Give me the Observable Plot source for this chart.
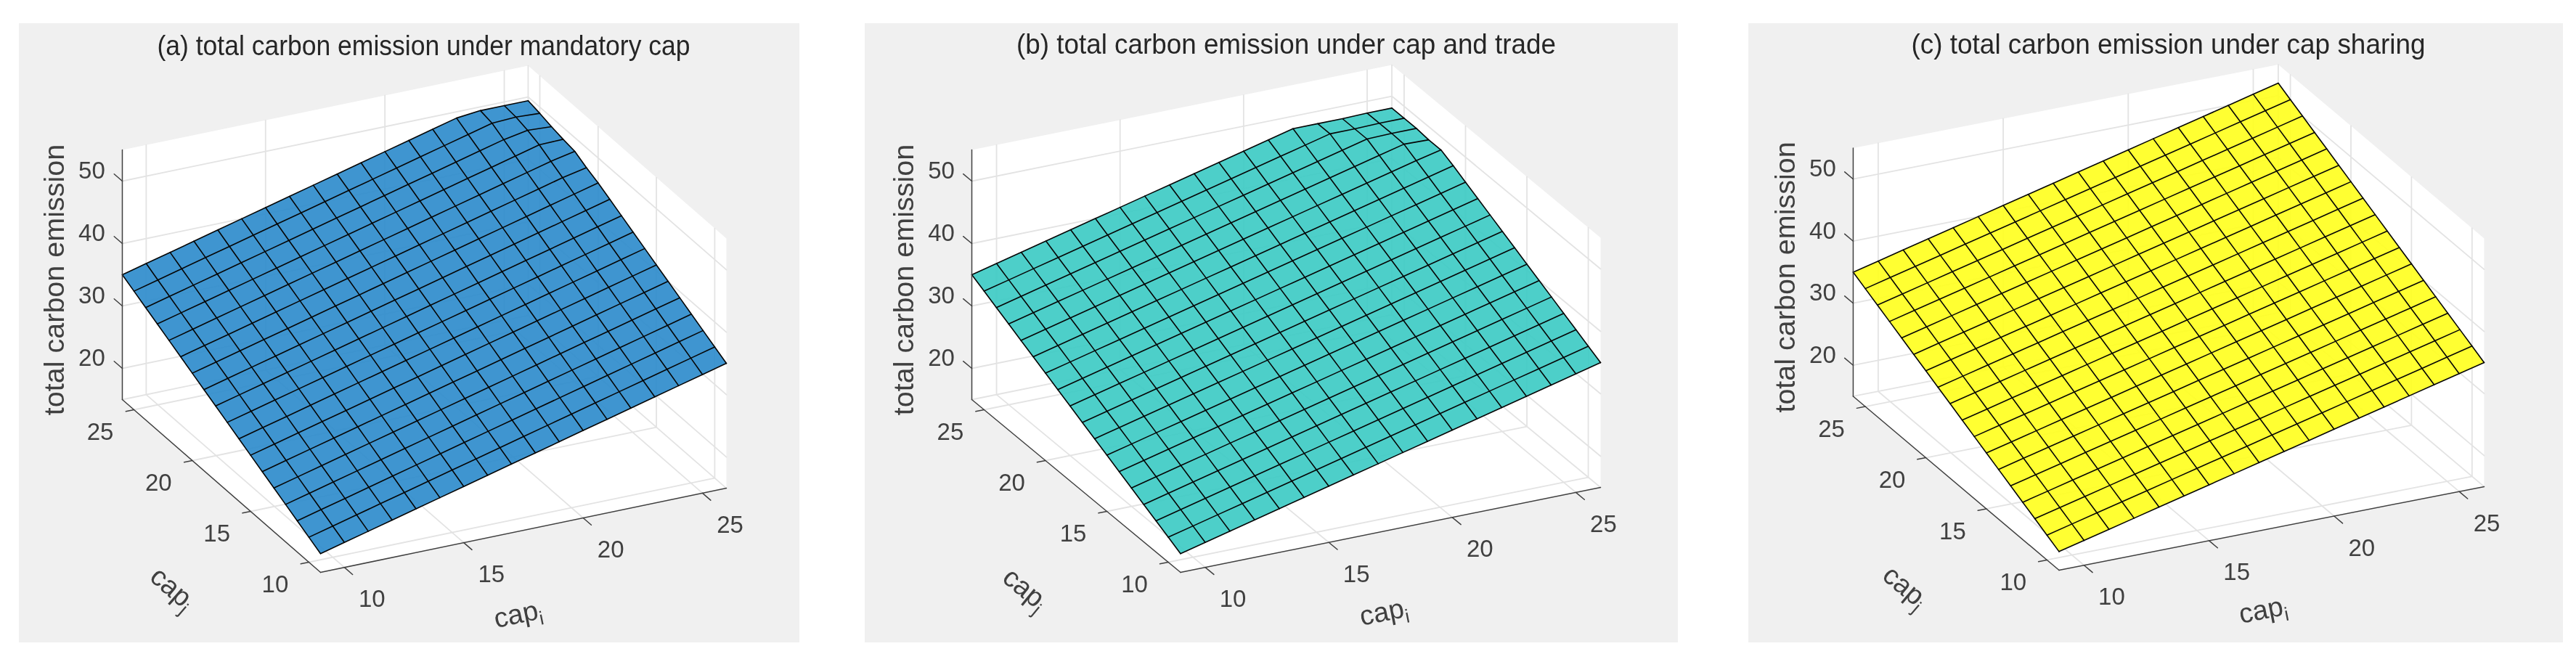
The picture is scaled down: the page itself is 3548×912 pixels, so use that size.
<!DOCTYPE html>
<html>
<head>
<meta charset="utf-8">
<script src="https://cdn.jsdelivr.net/npm/d3@7"></script>
<script src="https://cdn.jsdelivr.net/npm/@observablehq/plot@0.6"></script>
<style>
html,body{margin:0;padding:0;background:#fff;width:3548px;height:912px;overflow:hidden}
#chart{position:relative;width:3548px;height:912px}
#chart svg{position:absolute;display:block;filter:blur(0.55px)}
</style>
</head>
<body>
<div id="chart"></div>
<script>
// axis values of the surface grid: rows are capj, columns are capi
const capValues = [9,10,11,12,13,14,15,16,17,18,19,20,21,22,23,24,25,26];
const capTicks = [10,15,20,25];
const emissionTicks = [20,30,40,50];
const capLimits = [9,26];
const emissionLimits = [15,55];

const titles = [
  "(a) total carbon emission under mandatory cap",
  "(b) total carbon emission under cap and trade",
  "(c) total carbon emission under cap sharing"
];
const surfaceColors = ["#2A8ACB","#3ACAC3","#FFFF1C"];

const mandatoryCap = [
  [18,19,20,21,22,23,24,25,26,27,28,29,30,31,32,33,34,35],
  [19,20,21,22,23,24,25,26,27,28,29,30,31,32,33,34,35,36],
  [20,21,22,23,24,25,26,27,28,29,30,31,32,33,34,35,36,37],
  [21,22,23,24,25,26,27,28,29,30,31,32,33,34,35,36,37,38],
  [22,23,24,25,26,27,28,29,30,31,32,33,34,35,36,37,38,39],
  [23,24,25,26,27,28,29,30,31,32,33,34,35,36,37,38,39,40],
  [24,25,26,27,28,29,30,31,32,33,34,35,36,37,38,39,40,41],
  [25,26,27,28,29,30,31,32,33,34,35,36,37,38,39,40,41,42],
  [26,27,28,29,30,31,32,33,34,35,36,37,38,39,40,41,42,43],
  [27,28,29,30,31,32,33,34,35,36,37,38,39,40,41,42,43,44],
  [28,29,30,31,32,33,34,35,36,37,38,39,40,41,42,43,44,45],
  [29,30,31,32,33,34,35,36,37,38,39,40,41,42,43,44,45,46],
  [30,31,32,33,34,35,36,37,38,39,40,41,42,43,44,45,46,46.8],
  [31,32,33,34,35,36,37,38,39,40,41,42,43,44,45,46,47,47.8],
  [32,33,34,35,36,37,38,39,40,41,42,43,44,45,46,47,48,48.1],
  [33,34,35,36,37,38,39,40,41,42,43,44,45,46,47,48,48.7,48.5],
  [34,35,36,37,38,39,40,41,42,43,44,45,46,47,48,49,49.2,49],
  [35,36,37,38,39,40,41,42,43,44,45,46,47,48,49,49.4,49.4,49.4]
];
const capAndTrade = [
  [18,19,20,21,22,23,24,25,26,27,28,29,30,31,32,33,34,35],
  [19,20,21,22,23,24,25,26,27,28,29,30,31,32,33,34,35,36],
  [20,21,22,23,24,25,26,27,28,29,30,31,32,33,34,35,36,37],
  [21,22,23,24,25,26,27,28,29,30,31,32,33,34,35,36,37,38],
  [22,23,24,25,26,27,28,29,30,31,32,33,34,35,36,37,38,39],
  [23,24,25,26,27,28,29,30,31,32,33,34,35,36,37,38,39,40],
  [24,25,26,27,28,29,30,31,32,33,34,35,36,37,38,39,40,41],
  [25,26,27,28,29,30,31,32,33,34,35,36,37,38,39,40,41,42],
  [26,27,28,29,30,31,32,33,34,35,36,37,38,39,40,41,42,43],
  [27,28,29,30,31,32,33,34,35,36,37,38,39,40,41,42,43,44],
  [28,29,30,31,32,33,34,35,36,37,38,39,40,41,42,43,44,45],
  [29,30,31,32,33,34,35,36,37,38,39,40,41,42,43,44,45,46],
  [30,31,32,33,34,35,36,37,38,39,40,41,42,43,44,45,46,47],
  [31,32,33,34,35,36,37,38,39,40,41,42,43,44,45,46,47,47.9],
  [32,33,34,35,36,37,38,39,40,41,42,43,44,45,46,47,48,47.9],
  [33,34,35,36,37,38,39,40,41,42,43,44,45,46,47,48,48.1,48.1],
  [34,35,36,37,38,39,40,41,42,43,44,45,46,47,48,48,48.1,48.1],
  [35,36,37,38,39,40,41,42,43,44,45,46,47,48,48,48,48.1,48.1]
];
const capSharing = [
  [18,19,20,21,22,23,24,25,26,27,28,29,30,31,32,33,34,35],
  [19,20,21,22,23,24,25,26,27,28,29,30,31,32,33,34,35,36],
  [20,21,22,23,24,25,26,27,28,29,30,31,32,33,34,35,36,37],
  [21,22,23,24,25,26,27,28,29,30,31,32,33,34,35,36,37,38],
  [22,23,24,25,26,27,28,29,30,31,32,33,34,35,36,37,38,39],
  [23,24,25,26,27,28,29,30,31,32,33,34,35,36,37,38,39,40],
  [24,25,26,27,28,29,30,31,32,33,34,35,36,37,38,39,40,41],
  [25,26,27,28,29,30,31,32,33,34,35,36,37,38,39,40,41,42],
  [26,27,28,29,30,31,32,33,34,35,36,37,38,39,40,41,42,43],
  [27,28,29,30,31,32,33,34,35,36,37,38,39,40,41,42,43,44],
  [28,29,30,31,32,33,34,35,36,37,38,39,40,41,42,43,44,45],
  [29,30,31,32,33,34,35,36,37,38,39,40,41,42,43,44,45,46],
  [30,31,32,33,34,35,36,37,38,39,40,41,42,43,44,45,46,47],
  [31,32,33,34,35,36,37,38,39,40,41,42,43,44,45,46,47,48],
  [32,33,34,35,36,37,38,39,40,41,42,43,44,45,46,47,48,49],
  [33,34,35,36,37,38,39,40,41,42,43,44,45,46,47,48,49,50],
  [34,35,36,37,38,39,40,41,42,43,44,45,46,47,48,49,50,51],
  [35,36,37,38,39,40,41,42,43,44,45,46,47,48,49,50,51,52]
];
const surfaces = [mandatoryCap, capAndTrade, capSharing];

// panel rectangles and the orthographic view of each MATLAB-style box
const views = [
  {left:26,  right:1101, front:[441,788],    ix:32.88, iy:6.82, jx:16.06, jy:14.0,  zy:8.6,  labelI:[272,58], labelJ:[-204,22]},
  {left:1191,right:2311, front:[1625.5,788], ix:34.03, iy:6.88, jx:16.91, jy:14.0,  zy:8.6,  labelI:[280,55], labelJ:[-214,23]},
  {left:2408,right:3530, front:[2835.5,785], ix:34.44, iy:6.77, jx:16.68, jy:14.09, zy:8.55, labelI:[281,55], labelJ:[-212,23]}
];
const titleCenters = [[583,63],[1771,61],[2986,61]];
const titleWidths = [734,743,708];
const panelTop = 32, panelBottom = 885;
const font = "'Liberation Sans', Arial, sans-serif";
const ink = "#404040", gridInk = "#e3e3e3", wireInk = "#050505";

const chart = document.getElementById("chart");

views.forEach((view, k) => {
  const W = view.right - view.left, H = panelBottom - panelTop;
  const [iMin, iMax] = capLimits, [zMin, zMax] = emissionLimits;
  const jMin = iMin, jMax = iMax;
  const P = (i, j, z) => ({
    x: view.front[0] - view.left + view.ix * (i - iMin) - view.jx * (j - jMin),
    y: view.front[1] - panelTop - view.iy * (i - iMin) - view.jy * (j - jMin) - view.zy * (z - zMin)
  });

  const boxFace = [
    P(iMin,jMax,zMax), P(iMax,jMax,zMax), P(iMax,jMin,zMax),
    P(iMax,jMin,zMin), P(iMin,jMin,zMin), P(iMin,jMax,zMin), P(iMin,jMax,zMax)
  ];

  const grid = [];
  const seg = (id, a, b) => grid.push({id, ...a}, {id, ...b});
  capTicks.forEach(t => {
    seg(`fi${t}`, P(t,jMin,zMin), P(t,jMax,zMin));
    seg(`wi${t}`, P(t,jMax,zMin), P(t,jMax,zMax));
    seg(`fj${t}`, P(iMin,t,zMin), P(iMax,t,zMin));
    seg(`wj${t}`, P(iMax,t,zMin), P(iMax,t,zMax));
  });
  emissionTicks.forEach(t => {
    seg(`a${t}`, P(iMin,jMax,t), P(iMax,jMax,t));
    seg(`b${t}`, P(iMax,jMax,t), P(iMax,jMin,t));
  });
  seg("ba", P(iMin,jMax,zMin), P(iMax,jMax,zMin));
  seg("bb", P(iMax,jMax,zMin), P(iMax,jMin,zMin));
  seg("bc", P(iMax,jMax,zMin), P(iMax,jMax,zMax));

  const table = surfaces[k];
  const cells = [], rows = [], cols = [];
  capValues.forEach((j, r) => capValues.forEach((i, c) => {
    rows.push({id:r, ...P(i, j, table[r][c])});
    if (r < capValues.length - 1 && c < capValues.length - 1) {
      const id = `${r}-${c}`;
      cells.push(
        {id, ...P(capValues[c],   capValues[r],   table[r][c])},
        {id, ...P(capValues[c+1], capValues[r],   table[r][c+1])},
        {id, ...P(capValues[c+1], capValues[r+1], table[r+1][c+1])},
        {id, ...P(capValues[c],   capValues[r+1], table[r+1][c])}
      );
    }
  }));
  capValues.forEach((i, c) => capValues.forEach((j, r) => cols.push({id:c, ...P(i, j, table[r][c])})));

  const axes = [];
  const axisSeg = (id, a, b) => axes.push({id, ...a}, {id, ...b});
  axisSeg("i", P(iMin,jMin,zMin), P(iMax,jMin,zMin));
  axisSeg("j", P(iMin,jMin,zMin), P(iMin,jMax,zMin));
  axisSeg("z", P(iMin,jMax,zMin), P(iMin,jMax,zMax));
  capTicks.forEach(t => {
    axisSeg(`ti${t}`, P(t,jMin,zMin), P(t,jMin-0.7,zMin));
    axisSeg(`tj${t}`, P(iMin,t,zMin), P(iMin-0.34,t,zMin));
  });
  emissionTicks.forEach(t => axisSeg(`tz${t}`, P(iMin,jMax,t), P(iMin,jMax+0.7,t)));

  const iLabels = capTicks.map(t => ({text:String(t), ...P(t,jMin,zMin)}));
  const jLabels = capTicks.map(t => ({text:String(t), ...P(iMin,t,zMin)}));
  const zLabels = emissionTicks.map(t => ({text:String(t), ...P(iMin,jMax,t)}));
  const origin = P(iMin,jMin,zMin), corner = P(iMin,jMax,zMin), top = P(iMin,jMax,zMax);
  const tiltI = -Math.atan2(view.iy, view.ix) * 180 / Math.PI;
  const tiltJ = Math.atan2(view.jy, view.jx) * 180 / Math.PI;

  const tick = {fontSize:33, fill:ink, textAnchor:"middle", lineAnchor:"middle"};
  const svg = Plot.plot({
    width:W, height:H, margin:0,
    style:{background:"#f0f0f0", fontFamily:font, overflow:"hidden"},
    x:{domain:[0,W], range:[0,W], axis:null},
    y:{domain:[0,H], range:[0,H], axis:null},
    marks:[
      Plot.line(boxFace, {x:"x", y:"y", fill:"white", stroke:"none"}),
      Plot.line(grid, {x:"x", y:"y", z:"id", stroke:gridInk, strokeWidth:1.8}),
      Plot.line(cells, {x:"x", y:"y", z:"id", fill:surfaceColors[k], fillOpacity:0.9, stroke:"none"}),
      Plot.line(rows, {x:"x", y:"y", z:"id", stroke:wireInk, strokeWidth:1.6, strokeLinejoin:"round"}),
      Plot.line(cols, {x:"x", y:"y", z:"id", stroke:wireInk, strokeWidth:1.6, strokeLinejoin:"round"}),
      Plot.line(axes, {x:"x", y:"y", z:"id", stroke:ink, strokeWidth:1.5}),
      Plot.text(iLabels, {x:"x", y:"y", text:"text", dx:38, dy:44, ...tick}),
      Plot.text(jLabels, {x:"x", y:"y", text:"text", dx:-46.5, dy:31, ...tick}),
      Plot.text(zLabels, {x:"x", y:"y", text:"text", dx:-42, dy:-14, ...tick}),
      Plot.text([titles[k]], {x:titleCenters[k][0]-view.left, y:titleCenters[k][1]-panelTop, fontSize:39, fill:"#262626", textAnchor:"middle", lineAnchor:"middle"}),
      Plot.text(["total carbon emission"], {x:corner.x-93, y:(corner.y+top.y)/2+7, rotate:-90, fontSize:39.5, fill:ink, textAnchor:"middle", lineAnchor:"middle"}),
      Plot.text(["cap_i"], {x:origin.x+view.labelI[0], y:origin.y+view.labelI[1], rotate:tiltI, fontSize:38, fill:ink, textAnchor:"middle", lineAnchor:"middle"}),
      Plot.text(["cap_j"], {x:origin.x+view.labelJ[0], y:origin.y+view.labelJ[1], rotate:tiltJ, fontSize:38, fill:ink, textAnchor:"middle", lineAnchor:"middle"})
    ]
  });
  svg.style.left = view.left + "px";
  svg.style.top = panelTop + "px";
  svg.querySelectorAll("text").forEach(t => {
    const m = /^cap_([ij])$/.exec(t.textContent);
    if (m) t.innerHTML = `cap<tspan dy="0.32em" font-size="68%">${m[1]}</tspan>`;
    if (t.textContent === titles[k]) {
      t.setAttribute("textLength", titleWidths[k]);
      t.setAttribute("lengthAdjust", "spacingAndGlyphs");
    }
  });
  chart.appendChild(svg);
});
</script>
</body>
</html>
